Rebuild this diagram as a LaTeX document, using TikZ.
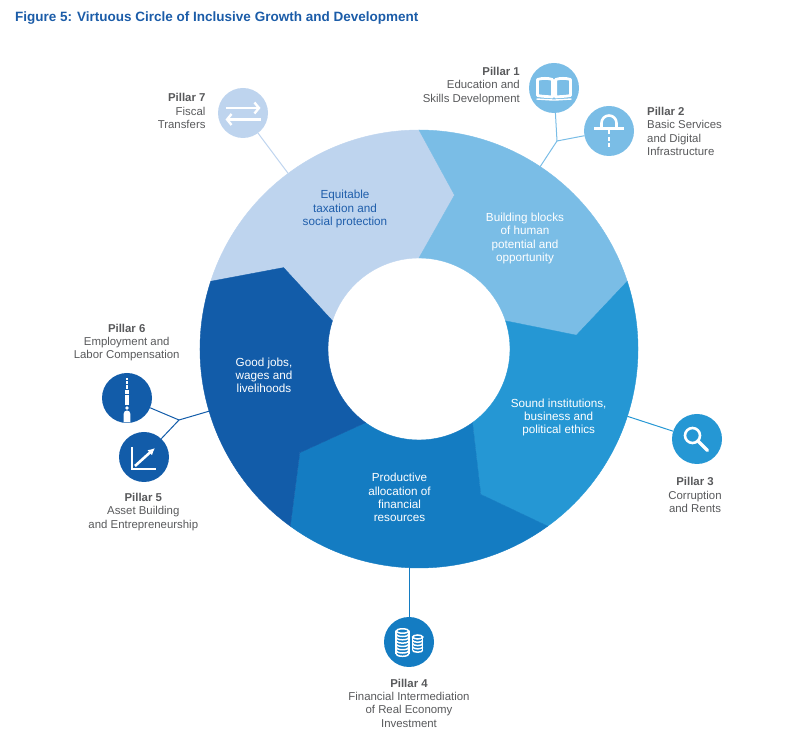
\documentclass[tikz,border=0pt]{standalone}
\usepackage{fontspec}
\setmainfont{Liberation Sans}
\usepackage{xcolor}
\usepackage{tikz}
\usetikzlibrary{calc}
\tikzset{>=latex}
\usetikzlibrary{arrows.meta}

\definecolor{ringA}{HTML}{BED4EE}
\definecolor{ringB}{HTML}{7ABDE6}
\definecolor{ringC}{HTML}{2597D4}
\definecolor{ringD}{HTML}{147CC2}
\definecolor{ringE}{HTML}{125CA9}
\definecolor{titleblue}{HTML}{1B5CA8}
\definecolor{eqblue}{HTML}{1F5EAB}
\definecolor{labelgray}{HTML}{58595B}

\begin{document}
\begin{tikzpicture}[x=1pt,y=1pt,
  pillar/.style={circle,minimum size=50pt,inner sep=0pt},
  pillar text/.style={text=labelgray,font=\fontsize{11.4}{13.3}\selectfont,inner sep=0pt},
  ring text/.style={text=white,font=\fontsize{11.7}{13.3}\selectfont,align=center,inner sep=0pt},
  icon/.style={white,line width=2.6pt},
  link/.style={line width=1pt}]
\useasboundingbox (0,0) rectangle (788,745);
\coordinate (C) at (419,396); % centre of the ring

% title
\node[anchor=west,text=titleblue,font=\bfseries\fontsize{13.5}{16}\selectfont,inner sep=0pt] (title) at (15,726.7) {Figure 5: Virtuous Circle of Inclusive Growth and Development};

% ring of five arrow segments
\foreach \a/\col in {162/ringA,90/ringB,18/ringC,-54/ringD,-126/ringE}{
  \pgfmathsetmacro{\b}{\a-72}
  \filldraw[\col,line width=0.4pt] ($(C)+(\a:219)$) arc[start angle=\a,end angle=\b,radius=219]
    -- ($(C)+(\b-13:158)$) -- ($(C)+(\b:91)$) arc[start angle=\b,end angle=\a,radius=91]
    -- ($(C)+(\a-13:158)$) -- cycle;
}
\node[ring text,text=eqblue] (t1) at (345,536) {Equitable\\taxation and\\social protection};
\node[ring text] (t2) at (525,506.5) {Building blocks\\of human\\potential and\\opportunity};
\node[ring text] (t3) at (558.7,327.7) {Sound institutions,\\business and\\political ethics};
\node[ring text] (t4) at (399.5,247.3) {Productive\\allocation of\\financial\\resources};
\node[ring text] (t5) at (264,369.7) {Good jobs,\\wages and\\livelihoods};

% pillars
\node[pillar,fill=ringB] (p1) at (554,657) {};
\node[pillar,fill=ringB] (p2) at (609,614) {};
\node[pillar,fill=ringC] (p3) at (697,306) {};
\node[pillar,fill=ringD] (p4) at (409,103) {};
\node[pillar,fill=ringE] (p5) at (144,288) {};
\node[pillar,fill=ringE] (p6) at (127,347) {};
\node[pillar,fill=ringA] (p7) at (243,632) {};

% connectors
\coordinate (j12) at (557,604);
\coordinate (r12) at ($(C)+(56.4:219)$);
\coordinate (r3) at ($(C)+(-17.9:219)$);
\coordinate (r4) at (409,177.2);
\coordinate (j56) at (179,325);
\coordinate (r56) at ($(C)+(196.5:219)$);
\coordinate (r7) at ($(C)+(126.7:219)$);
\draw[link,ringB] (p1) -- (j12) -- (p2);
\draw[link,ringB] (j12) -- (r12);
\draw[link,ringC] (r3) -- (p3);
\draw[link,ringD] (r4) -- (p4);
\draw[link,ringE] (p6) -- (j56) -- (p5);
\draw[link,ringE] (j56) -- (r56);
\draw[link,ringA] (p7) -- (r7);

% icons
\begin{scope}[shift={(p1)},icon,line width=2.8pt,line join=round] % book
  \draw (-1.6,-9) -- (-1.6,8.5) .. controls (-6,10) and (-12,10) .. (-16.5,8.5) -- (-16.5,-7.5) .. controls (-12,-8.5) and (-6,-8.5) .. (-1.6,-9) -- cycle;
  \draw (1.6,-9) -- (1.6,8.5) .. controls (6,10) and (12,10) .. (16.5,8.5) -- (16.5,-7.5) .. controls (12,-8.5) and (6,-8.5) .. (1.6,-9) -- cycle;
  \draw[line width=1.4pt] (-17.5,-11) -- (-1.5,-12) -- (1.5,-12) -- (17.5,-11);
\end{scope}
\begin{scope}[shift={(p2)},icon] % road and arch
  \draw (-7.5,3) -- (-7.5,8) arc[start angle=180,end angle=0,radius=7.5] -- (7.5,3);
  \draw[line width=2.2pt] (-15,2.5) -- (15,2.5);
  \draw[line width=2.6pt,dash pattern=on 4pt off 2.5pt] (0,0.5) -- (0,-16);
\end{scope}
\begin{scope}[shift={(p3)},icon] % magnifier
  \draw (-4.5,3.5) circle[radius=7.5];
  \draw[line width=3.2pt,line cap=round] (0.8,-1.8) -- (10.5,-11.5);
\end{scope}
\begin{scope}[shift={(p4)},icon,line width=1.5pt] % coins
  \draw (-6.5,11) ellipse[x radius=6.3,y radius=2.2];
  \draw (-12.8,11) -- (-12.8,-12.1) (-0.2,11) -- (-0.2,-12.1);
  \foreach \k in {1,...,7}
    \draw (-12.8,{11-3.3*\k}) arc[start angle=180,end angle=360,x radius=6.3,y radius=2.2];
  \draw (8.7,5) ellipse[x radius=5,y radius=2];
  \draw (3.7,5) -- (3.7,-8.2) (13.7,5) -- (13.7,-8.2);
  \foreach \k in {1,...,4}
    \draw (3.7,{5-3.3*\k}) arc[start angle=180,end angle=360,x radius=5,y radius=2];
\end{scope}
\begin{scope}[shift={(p5)},icon] % chart
  \draw (-12,10) -- (-12,-12) -- (12,-12);
  \draw[-{Latex[length=7pt,width=7pt]}] (-9,-9) -- (11,9);
\end{scope}
\begin{scope}[shift={(p6)}] % tower
  \clip (0,0) circle[radius=24.5];
  \fill[white] (-0.7,17.7) rectangle (0.7,20.3);
  \fill[white] (-0.9,13.7) rectangle (0.9,16.7);
  \fill[white] (-1.2,9.3) rectangle (1.2,12.7);
  \fill[white] (-1.6,4.3) rectangle (1.6,7.7);
  \fill[white] (-2.3,-6.7) rectangle (2.3,2.7);
  \fill[white] (0,-10) circle[radius=1.9];
  \fill[white] (-3.4,-26) -- (-3.4,-15.9) arc[start angle=180,end angle=0,radius=3.4] -- (3.4,-26) -- cycle;
\end{scope}
\begin{scope}[shift={(p7)},icon,line width=2.4pt] % transfers
  \draw[-{Straight Barb[length=4.5pt,width=11pt]}] (-17.5,5) -- (17.5,5);
  \draw[-{Straight Barb[length=4.5pt,width=11pt]}] (17.5,-6.5) -- (-17.5,-6.5);
\end{scope}

% pillar labels
\node[pillar text,anchor=east,align=right] (l1) at (520,659) {\textbf{Pillar 1}\\Education and\\Skills Development};
\node[pillar text,anchor=west,align=left] (l2) at (647,613.5) {\textbf{Pillar 2}\\Basic Services\\and Digital\\Infrastructure};
\node[pillar text,align=center] (l3) at (695,250) {\textbf{Pillar 3}\\Corruption\\and Rents};
\node[pillar text,align=center] (l4) at (409,42) {\textbf{Pillar 4}\\Financial Intermediation\\of Real Economy\\Investment};
\node[pillar text,align=center] (l5) at (143.3,233) {\textbf{Pillar 5}\\Asset Building\\and Entrepreneurship};
\node[pillar text,align=center] (l6) at (126.7,402.3) {\textbf{Pillar 6}\\Employment and\\Labor Compensation};
\node[pillar text,anchor=east,align=right] (l7) at (205.7,634) {\textbf{Pillar 7}\\Fiscal\\Transfers};
\end{tikzpicture}
\end{document}
